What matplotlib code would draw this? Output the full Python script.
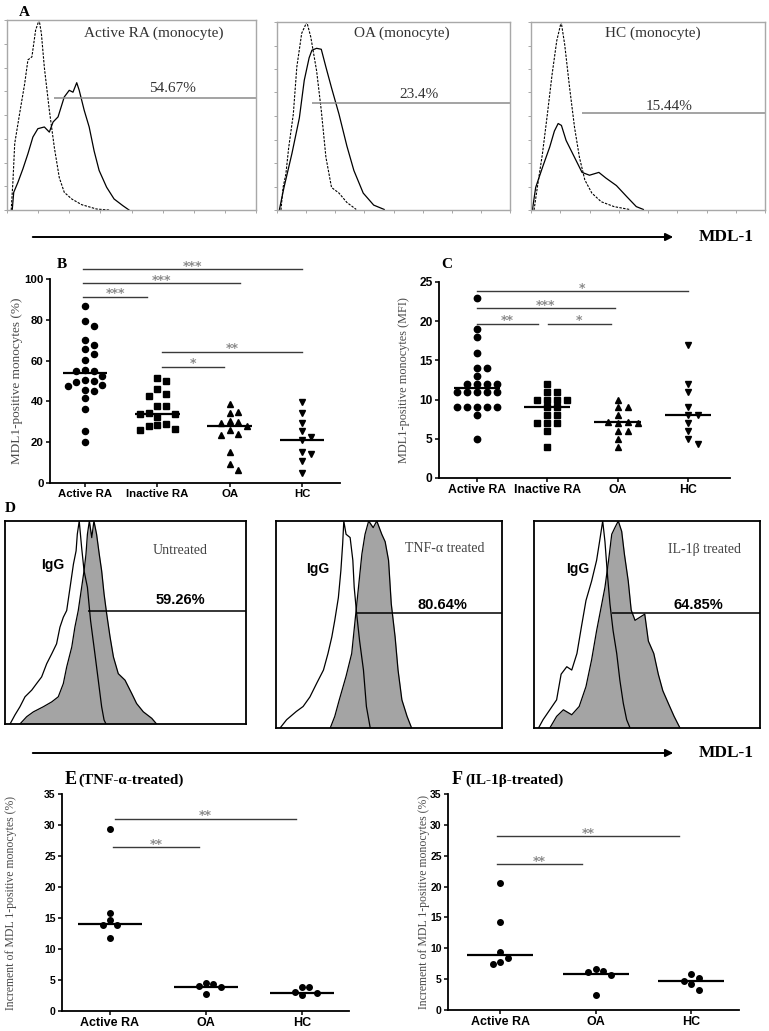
import numpy as np
import matplotlib.pyplot as plt

W, H = 769, 1031
SERIF = 'Liberation Serif'
SANS = 'Liberation Sans'
NARROW = ['Liberation Sans Narrow', 'Liberation Sans', 'DejaVu Sans']

# ---------------- A: flow histograms, x/y in % of each box ----------------
a_titles = ['Active RA (monocyte)', 'OA (monocyte)', 'HC (monocyte)']
a_percents = ['54.67%', '23.4%', '15.44%']
a_gate_x = [18.7, 14.9, 21.8]
a_gate_y = [59.2, 56.8, 51.5]

ra_iso_x = [1.7, 2.4, 3.1, 5.1, 7.1, 8.4, 10, 11.5, 12.9, 13.8, 15, 17, 19, 21, 23, 26, 30, 36, 41]
ra_iso_y = [0, 15.5, 35, 51, 66.5, 79, 80.6, 94.7, 100, 93, 75, 52.5, 33, 17, 9.3, 5.8, 2.8, 0.5, 0]
ra_mdl_x = [2.1, 2.7, 4.4, 6.4, 8.4, 10.4, 12.4, 15, 17, 18.5, 20.5, 23, 25, 26.5, 28, 29, 31, 33, 35,
            37, 40, 43, 46.5, 49]
ra_mdl_y = [0, 9.3, 14.6, 21.7, 29.6, 38.4, 42.8, 43.7, 41, 46.3, 49, 59.5, 63, 62, 67, 63, 52.5, 43.7,
            31, 20.8, 12, 5.8, 2.3, 0]

oa_iso_x = [1.7, 2.6, 3.8, 5, 7, 8.5, 10.6, 12.8, 14.5, 17, 19, 21, 23.4, 26.6, 30, 34]
oa_iso_y = [0, 12, 19, 33, 51, 76, 94, 100, 92, 74, 53, 28, 12, 9, 4, 0.3]
oa_mdl_x = [1, 3, 6.4, 9.6, 11.7, 13.8, 15, 17, 19, 21, 23.4, 26.6, 30, 33, 37, 41.5, 46]
oa_mdl_y = [0, 12, 30, 49, 69, 81, 85, 86, 85.5, 76, 65, 51, 34, 21, 9, 2.6, 0.3]

hc_iso_x = [1.3, 2.7, 4.9, 7, 9, 11, 12.9, 14.4, 16.5, 18.6, 20.7, 23, 26, 30, 35.5, 42]
hc_iso_y = [0, 12, 30, 51, 72, 90, 100, 88, 65, 44, 28, 16, 9, 4.4, 1.8, 0.3]
hc_mdl_x = [0.6, 2, 5, 8, 10, 11.6, 13, 15, 18.6, 21.8, 25, 29, 32, 36.5, 41, 45, 48]
hc_mdl_y = [0, 12, 23, 33.5, 42, 46, 45, 37, 28, 20, 18.5, 20, 17, 13, 7, 1.8, 0.3]

# ---------------- D: cytokine-treated histograms ----------------
d_titles = ['Untreated', 'TNF-\u03b1 treated', 'IL-1\u03b2 treated']
d_percents = ['59.26%', '80.64%', '64.85%']
d_gate_x = [34.6, 35.5, 34.4]
d_gate_y = [55.9, 55.5, 55.5]

un_iso_x = [2.1, 4.1, 6.2, 8.3, 11.1, 13.1, 15.2, 17.3, 19.4, 21.4, 22.8, 24.2, 25.6, 27, 28.4, 29.5,
            30, 30.8, 31.8, 32.8, 34.2, 35.5, 37.3, 38.7, 40.1, 41.1, 41.9]
un_iso_y = [0, 4.4, 8.5, 13.4, 16.7, 19.9, 23.2, 29.7, 34.6, 39.5, 47.7, 52.6, 55.9, 67.3, 78.8, 85.3,
            93.5, 100, 86.9, 75.5, 67.3, 51, 34.6, 21.6, 8.5, 2, 0]
un_mdl_x = [6.2, 9, 11.8, 15.9, 19.4, 22.1, 24.2, 25.6, 27.7, 29, 30.4, 31.8, 32.8, 33.6, 34.2, 35, 36,
            36.9, 38, 39.1, 40.1, 41.1, 42.2, 43.6, 45, 47, 49.8, 52.6, 54.6, 57.4, 60.9, 62.9]
un_mdl_y = [0, 3.6, 6, 8.5, 10.9, 13.4, 19.9, 28.1, 37.9, 47.7, 55.9, 67.3, 75.5, 83.7, 93.5, 100, 91.8,
            100, 93.5, 83.7, 75.5, 64.1, 54.2, 42.8, 33, 24.8, 21.6, 15, 10.1, 6, 2.8, 0]

tnf_iso_x = [1.8, 4.7, 9, 12, 15, 18, 21, 23, 24.7, 26, 27.6, 28.7, 29.5, 30, 31, 32.8, 34, 34.6, 35.7,
             37, 38.7, 40, 41.7]
tnf_iso_y = [0, 4, 8, 10.4, 15, 21.6, 28, 36, 44, 52, 63, 76, 89, 100, 93.6, 92, 81, 68, 55, 42, 28,
             10.4, 0]
tnf_mdl_x = [24, 26, 28, 31, 33.5, 35, 36.5, 38, 39.4, 41, 43, 44.6, 46.8, 48.3, 49.8, 51, 52.7, 54,
             55.7, 58, 60]
tnf_mdl_y = [0, 5.6, 13.6, 25, 36, 52, 68, 84, 93.6, 100, 96.8, 100, 93.6, 90, 81, 60, 44, 28, 13.6,
             5.6, 0]

il_iso_x = [2, 4, 7, 10, 12, 14.5, 16.7, 19, 21, 23, 25.5, 27.7, 29, 30.4, 31.4, 32.5, 33.6, 35, 36.6,
            38, 39.5, 41, 42.5]
il_iso_y = [0, 4, 8.8, 13.6, 26, 29.6, 28, 36, 49, 61.6, 71, 81, 90, 100, 90, 74, 60, 47, 36, 23, 12,
            4, 0]
il_mdl_x = [7, 10, 13, 16.7, 20, 23, 25.5, 27.7, 30, 31.4, 33, 34.4, 35.8, 37.3, 38.8, 40, 41.7, 43,
            44.7, 47, 49, 50.6, 53, 55, 57, 59.4, 62, 64.6]
il_mdl_y = [0, 5.6, 8.8, 6.4, 10.4, 20, 33, 47, 60, 68, 81, 93.6, 96.8, 100, 95, 84, 71, 57, 52, 53.6,
            55, 42, 36, 26, 18, 12, 5.6, 0]

# ---------------- B: MDL1-positive monocytes (%) ----------------
b_groups = ['Active RA', 'Inactive RA', 'OA', 'HC']
b_active = [87, 79.5, 77, 70, 67.5, 65.5, 63, 60.5, 55.5, 55, 55, 52.5, 50.5, 50, 49.5, 48, 47.5, 45.5,
            45, 41.5, 36.5, 25.5, 20]
b_inactive = [51.5, 50, 46, 43.5, 42.5, 37.5, 37.5, 34.5, 34, 34, 32.5, 29, 28.5, 28, 26.5, 26]
b_oa = [38.5, 35, 34.5, 30.5, 30, 29.5, 28, 26, 24, 23.5, 15, 9.5, 6.5]
b_hc = [39.5, 34.5, 29.5, 25.5, 22.5, 21, 15, 14, 11, 5]
b_medians = [54, 34, 28, 21.3]
b_sig = [(0.97, 4.0, 104.9, '***'), (0.97, 3.14, 97.9, '***'), (0.97, 1.86, 91.3, '***'),
         (2.06, 4.0, 64.4, '**'), (2.06, 2.92, 57.0, '*')]

# ---------------- C: MDL1-positive monocytes (MFI) ----------------
c_active = [23, 19, 18, 16, 14, 14, 13, 12, 12, 12, 12, 11, 11, 11, 11, 11, 9, 9, 9, 9, 9, 8, 5]
c_inactive = [12, 11, 11, 10, 10, 10, 10, 9, 9, 8, 8, 7, 7, 7, 6, 4]
c_oa = [10, 9, 9, 8, 7.2, 7.2, 7, 7, 6, 6, 5, 4]
c_hc = [17, 12, 11, 9, 8, 8, 7, 6, 5, 4.3]
c_medians = [11.5, 9, 7.1, 8]
c_sig = [(1.0, 4.0, 23.8, '*'), (1.0, 2.96, 21.7, '***'), (1.0, 1.87, 19.7, '**'),
         (2.01, 2.9, 19.7, '*')]

# ---------------- E / F: increment after stimulation ----------------
ef_groups = ['Active RA', 'OA', 'HC']
e_active = [29.4, 15.8, 14.6, 13.8, 13.8, 11.8]
e_oa = [4.5, 4.3, 4.0, 3.8, 2.7]
e_hc = [3.8, 3.8, 3.0, 2.9, 2.6]
e_medians = [14.1, 3.9, 2.95]
e_sig = [(1.05, 2.94, 31.0, '**'), (1.03, 1.93, 26.4, '**')]

f_active = [20.5, 14.2, 9.35, 8.4, 7.8, 7.5]
f_oa = [6.6, 6.3, 6.1, 5.6, 2.5]
f_hc = [5.8, 5.2, 4.7, 4.2, 3.3]
f_medians = [8.9, 5.9, 4.7]
f_sig = [(0.97, 2.87, 28.2, '**'), (0.97, 1.86, 23.6, '**')]


fig = plt.figure(figsize=(W / 100, H / 100), dpi=100)


def place(x0, y0, x1, y1):
    # axes from pixel box (top-left origin)
    return fig.add_axes([x0 / W, 1 - y1 / H, (x1 - x0) / W, (y1 - y0) / H])


def hist_box(box, iso, mdl, gx, gy, filled):
    ax = place(*box)
    ax.set_xlim(0, 100)
    ax.set_ylim(0, 100)
    if filled:
        ax.fill_between(mdl[0], mdl[1], color='#a4a4a4', lw=0)
        ax.plot(mdl[0], mdl[1], color='black', lw=0.9)
        ax.plot(iso[0], iso[1], color='black', lw=0.9)
        ax.hlines(gy, gx, 100, color='black', lw=1.1)
        ax.set_xticks([])
        ax.set_yticks([])
        for s in ax.spines.values():
            s.set_linewidth(1.3)
    else:
        ax.plot(iso[0], iso[1], color='black', lw=0.8, ls=(0, (2.2, 1.2)))
        ax.plot(mdl[0], mdl[1], color='black', lw=0.9)
        ax.hlines(gy, gx, 100, color='#8a8a8a', lw=1.1)
        ax.set_yticks(np.linspace(0, 100, 9))
        ax.set_xticks([0, 12.5, 25, 37.5, 50, 62.5, 75, 87.5, 100])
        ax.tick_params(length=2, width=0.6, color='#999999', labelleft=False, labelbottom=False)
        for s in ax.spines.values():
            s.set_color('#a8a8a8')
            s.set_linewidth(1.0)
    return ax


def swarm(vals, sx, sy, step, gap):
    # simple beeswarm: offsets in pixels converted to data units
    placed = []
    offs = np.zeros(len(vals))
    for i in np.argsort(vals)[::-1]:
        y = vals[i] * sy
        for k in [0, 1, -1, 2, -2, 3, -3, 4, -4, 5, -5]:
            xo = k * step
            if all(np.hypot(xo - px, y - py) >= gap for px, py in placed):
                break
        placed.append((xo, y))
        offs[i] = xo / sx
    return offs


def dot_panel(box, groups, series, markers, medians, xlim, ylim, yticks, step, ms, gapf, hw,
              cat_font, cat_size, tick_font, tick_size, ylabel, ylabel_x, ylabel_size, sigs):
    ax = place(*box)
    ax.set_xlim(*xlim)
    ax.set_ylim(*ylim)
    sx = (box[2] - box[0]) / (xlim[1] - xlim[0])
    sy = (box[3] - box[1]) / (ylim[1] - ylim[0])
    gap = ms / 0.72 * gapf
    for i, (vals, mk, med) in enumerate(zip(series, markers, medians)):
        xs = i + 1 + swarm(np.array(vals, float), sx, sy, step, gap)
        ax.plot(xs, vals, mk, ls='none', ms=ms, color='black', mec='black', clip_on=False)
        ax.hlines(med, i + 1 - hw, i + 1 + hw, color='black', lw=1.6)
    for xa, xb, y, stars in sigs:
        ax.plot([xa, xb], [y, y], color='#3a3a3a', lw=1.0, clip_on=False)
        ax.annotate(stars, ((xa + xb) / 2, y), xytext=(0, -0.5), textcoords='offset points',
                    ha='center', va='baseline', fontsize=9, color='#8a8a8a',
                    family='DejaVu Sans', fontweight='bold', annotation_clip=False)
    ax.set_xticks(range(1, len(groups) + 1))
    ax.set_xticklabels(groups, family=cat_font, fontsize=cat_size, fontweight='bold')
    ax.set_yticks(yticks)
    ax.set_yticklabels([str(t) for t in yticks], family=tick_font, fontsize=tick_size,
                       fontweight='bold')
    ax.tick_params(direction='out', length=3, width=1.1, pad=1.5)
    for s in ['top', 'right']:
        ax.spines[s].set_visible(False)
    for s in ['left', 'bottom']:
        ax.spines[s].set_linewidth(1.3)
    ax.set_ylabel(ylabel, family=SERIF, fontsize=ylabel_size, color='#4a4a4a')
    ax.yaxis.set_label_coords(ylabel_x, 0.5)
    return ax


# panel A
a_boxes = [(7, 20, 256, 210), (277, 22, 510, 210), (531, 22, 765, 210)]
a_iso = [(ra_iso_x, ra_iso_y), (oa_iso_x, oa_iso_y), (hc_iso_x, hc_iso_y)]
a_mdl = [(ra_mdl_x, ra_mdl_y), (oa_mdl_x, oa_mdl_y), (hc_mdl_x, hc_mdl_y)]
for i in range(3):
    hist_box(a_boxes[i], a_iso[i], a_mdl[i], a_gate_x[i], a_gate_y[i], False)

# panel D
d_boxes = [(5, 521, 246, 724), (276, 521, 502, 728), (534, 521, 760, 728)]
d_iso = [(un_iso_x, un_iso_y), (tnf_iso_x, tnf_iso_y), (il_iso_x, il_iso_y)]
d_mdl = [(un_mdl_x, un_mdl_y), (tnf_mdl_x, tnf_mdl_y), (il_mdl_x, il_mdl_y)]
for i in range(3):
    hist_box(d_boxes[i], d_iso[i], d_mdl[i], d_gate_x[i], d_gate_y[i], True)

# panels B, C, E, F
dot_panel((50, 279, 340, 483), b_groups, [b_active, b_inactive, b_oa, b_hc], ['o', 's', '^', 'v'],
          b_medians, (0.516, 4.525), (0, 100), [0, 20, 40, 60, 80, 100], 8.7, 4.4, 1.25, 0.31,
          NARROW, 8.2, NARROW, 8.2, 'MDL1-positive monocytes (%)', -0.093, 9.5, b_sig)
dot_panel((439, 282, 730, 478), b_groups, [c_active, c_inactive, c_oa, c_hc], ['o', 's', '^', 'v'],
          c_medians, (0.46, 4.6), (0, 25), [0, 5, 10, 15, 20, 25], 10, 4.6, 1.1, 0.33,
          SANS, 8.8, SANS, 8.6, 'MDL1-positive monocytes (MFI)', -0.1, 8.8, c_sig)
dot_panel((62, 794, 349, 1011), ef_groups, [e_active, e_oa, e_hc], ['o', 'o', 'o'],
          e_medians, (0.5, 3.49), (0, 35), [0, 5, 10, 15, 20, 25, 30, 35], 7.3, 4.0, 1.25, 0.335,
          SANS, 9, NARROW, 7.5, 'Increment of MDL 1-positive monocytes (%)', -0.157, 8.5, e_sig)
dot_panel((448, 794, 739, 1010), ef_groups, [f_active, f_oa, f_hc], ['o', 'o', 'o'],
          f_medians, (0.455, 3.5), (0, 35), [0, 5, 10, 15, 20, 25, 30, 35], 7.5, 4.0, 1.25, 0.345,
          SANS, 9, NARROW, 7.5, 'Increment of MDL 1-positive monocytes (%)', -0.062, 8.5, f_sig)

# overlay for labels and arrows (pixel coordinates)
ov = fig.add_axes([0, 0, 1, 1])
ov.set_xlim(0, W)
ov.set_ylim(H, 0)
ov.axis('off')

for lbl, (x, y) in zip(['A', 'B', 'C', 'D'], [(24, 12), (62, 265), (447, 265), (10, 509)]):
    ov.text(x, y, lbl, family=SERIF, fontweight='bold', fontsize=11, ha='center', va='center')

for t, p, (tx, ty), (px, py) in zip(a_titles, a_percents, [(154, 33), (402, 33), (653, 33)],
                                     [(173, 89), (419, 95), (669, 106)]):
    ov.text(tx, ty, t, family=SERIF, fontsize=11, color='#333333', ha='center', va='center')
    ov.text(px, py, p, family=SERIF, fontsize=11, color='#333333', ha='center', va='center')

for t, p, (tx, ty), (px, py), (ix, iy) in zip(d_titles, d_percents,
                                               [(180, 550), (445, 548), (705, 549)],
                                               [(180, 600), (442, 605), (698, 605)],
                                               [(53, 565), (318, 569), (578, 569)]):
    ov.text(tx, ty, t, family=SERIF, fontsize=10, color='#444444', ha='center', va='center')
    ov.text(px, py, p, family=SANS, fontsize=10.5, fontweight='bold', ha='center', va='center')
    ov.text(ix, iy, 'IgG', family=SANS, fontsize=10, fontweight='bold', ha='center', va='center')

for y in [237, 753]:
    ov.annotate('', xy=(676, y), xytext=(30, y),
                arrowprops=dict(arrowstyle='-|>', lw=1.4, color='black', mutation_scale=11))
    ov.text(726, y, 'MDL-1', family=SERIF, fontweight='bold', fontsize=12.5, ha='center', va='center')

ov.text(65, 784, 'E', family=SERIF, fontweight='bold', fontsize=13, ha='left', va='baseline')
ov.text(78, 784, '(TNF-\u03b1-treated)', family=SERIF, fontweight='bold', fontsize=11,
        ha='left', va='baseline')
ov.text(452, 784, 'F', family=SERIF, fontweight='bold', fontsize=13, ha='left', va='baseline')
ov.text(465, 784, '(IL-1\u03b2-treated)', family=SERIF, fontweight='bold', fontsize=11,
        ha='left', va='baseline')

fig.savefig('out.png', dpi=100)
